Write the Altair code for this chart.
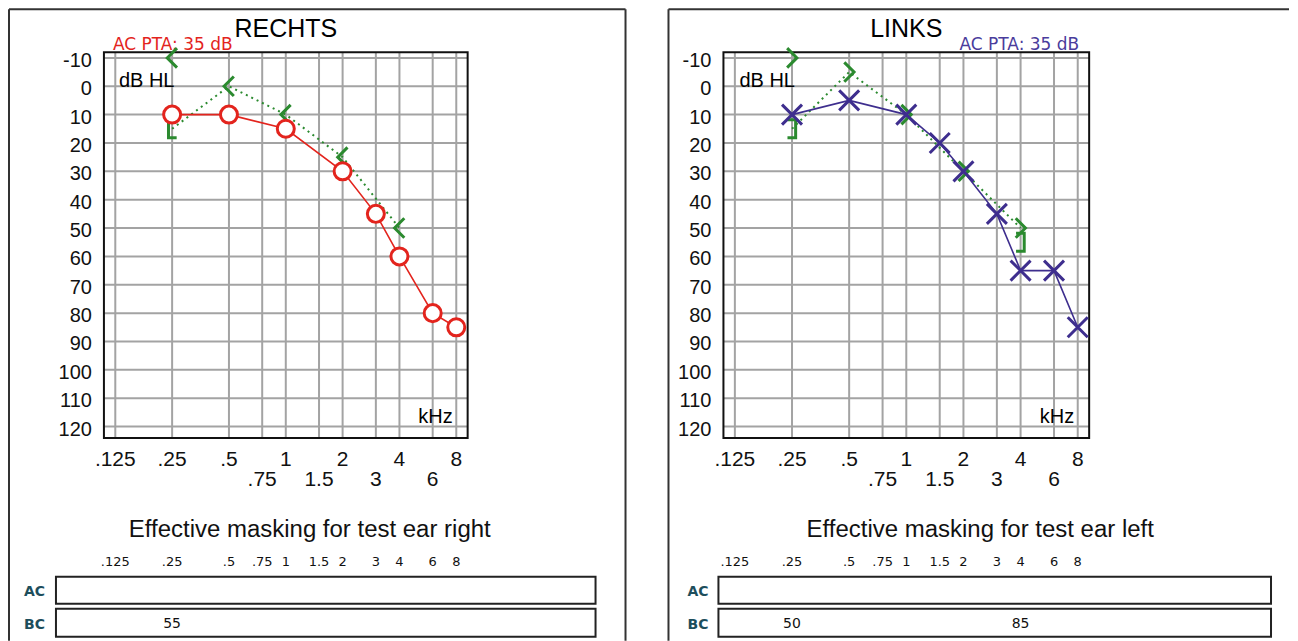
import altair as alt
import pandas as pd

# ---------------- data ----------------
FREQS = [0.125, 0.25, 0.5, 0.75, 1, 1.5, 2, 3, 4, 6, 8]
FREQ_LABELS = [".125", ".25", ".5", ".75", "1", "1.5", "2", "3", "4", "6", "8"]
FREQ_ROW = [1, 1, 1, 2, 1, 2, 1, 2, 1, 2, 1]
DB_TICKS = [-10, 0, 10, 20, 30, 40, 50, 60, 70, 80, 90, 100, 110, 120]

# right ear (RECHTS)
R_AC_F = [0.25, 0.5, 1, 2, 3, 4, 6, 8]
R_AC_DB = [10, 10, 15, 30, 45, 60, 80, 85]
R_BC_F = [0.25, 0.5, 1, 2, 4]
R_BC_DB = [-10, 0, 10, 25, 50]
R_BCM_F = [0.25]
R_BCM_DB = [15]
R_BCLINE_F = [0.25, 0.5, 1, 2, 4]
R_BCLINE_DB = [15, 0, 10, 25, 50]
R_MASK_BC_F = [0.25]
R_MASK_BC = ["55"]
R_PTA = "AC PTA: 35 dB"

# left ear (LINKS)
L_AC_F = [0.25, 0.5, 1, 1.5, 2, 3, 4, 6, 8]
L_AC_DB = [10, 5, 10, 20, 30, 45, 65, 65, 85]
L_BC_F = [0.25, 0.5, 1, 2, 4]
L_BC_DB = [-10, -5, 10, 30, 50]
L_BCM_F = [0.25, 4]
L_BCM_DB = [15, 55]
L_BCLINE_F = [0.25, 0.5, 1, 2, 4]
L_BCLINE_DB = [15, -5, 10, 30, 50]
L_MASK_BC_F = [0.25, 4]
L_MASK_BC = ["50", "85"]
L_PTA = "AC PTA: 35 dB"

# ---------------- styles ----------------
RED = "#e3241d"
BLUE = "#3e2e8e"
PURPLE_TXT = "#4a3c9c"
GREEN = "#2b8a2f"
GRID = "#a3a3a3"
TEAL = "#1d4e5c"
FONT = "Liberation Sans"
FONT2 = "DejaVu Sans"

XSHAPE = "M-1,-1L1,1M1,-1L-1,1"
LT = "M0.5,-1L-0.5,0L0.5,1"
GT = "M-0.5,-1L0.5,0L-0.5,1"
LBR = "M0.5,-1L-0.4,-1L-0.4,1L0.5,1"
RBR = "M-0.5,-1L0.4,-1L0.4,1L-0.5,1"

DB_DOMAIN = [-12, 124]
F_LO = 0.125 * 2 ** -0.2
F_HI = 8 * 2 ** 0.2
H = 632

one = pd.DataFrame({"k": [0]})


def fd(f, v, name="db"):
    return pd.DataFrame({"f": f, name: v})


def panel(title, pta, pta_color, ac_f, ac_db, ac_color, ac_shape, ac_size, ac_fill,
          bc_f, bc_db, bc_shape, bcm_f, bcm_db, bcm_shape, line_f, line_db,
          mask_bc_f, mask_bc, mask_title, L):
    sx = alt.Scale(type="log", base=2, domain=[F_LO, F_HI], range=L["x_range"], nice=False)
    sy = alt.Scale(type="linear", domain=DB_DOMAIN, range=[43, 429], nice=False, zero=False)
    X = lambda f="f:Q": alt.X(f, scale=sx, axis=None)
    Y = lambda f="db:Q": alt.Y(f, scale=sy, axis=None)

    freq_df = pd.DataFrame({"f": FREQS, "label": FREQ_LABELS, "row": FREQ_ROW})
    db_df = pd.DataFrame({"db": DB_TICKS, "lab": [str(v) for v in DB_TICKS]})
    W = L["width"]
    layers = []

    # outer panel frame
    layers.append(alt.Chart(one).mark_rule(color="#333", strokeWidth=2).encode(
        x=alt.value(0), y=alt.value(0), y2=alt.value(H)))
    layers.append(alt.Chart(one).mark_rule(color="#333", strokeWidth=2).encode(
        x=alt.value(0), x2=alt.value(L["frame_right"]), y=alt.value(0)))
    if L["right_border"]:
        layers.append(alt.Chart(one).mark_rule(color="#333", strokeWidth=2).encode(
            x=alt.value(L["frame_right"]), y=alt.value(0), y2=alt.value(H)))

    # grid
    layers.append(alt.Chart(freq_df).mark_rule(color=GRID, strokeWidth=2).encode(
        x=X(), y=alt.YDatum(DB_DOMAIN[0], type="quantitative", scale=sy, axis=None),
        y2=alt.Y2Datum(DB_DOMAIN[1])))
    layers.append(alt.Chart(db_df).mark_rule(color=GRID, strokeWidth=2).encode(
        y=Y(), x=alt.XDatum(F_LO, type="quantitative", scale=sx, axis=None),
        x2=alt.X2Datum(F_HI)))
    # plot frame
    layers.append(alt.Chart(one).mark_rect(fillOpacity=0, stroke="#111", strokeWidth=2).encode(
        x=alt.XDatum(F_LO, type="quantitative", scale=sx, axis=None), x2=alt.X2Datum(F_HI),
        y=alt.YDatum(DB_DOMAIN[0], type="quantitative", scale=sy, axis=None),
        y2=alt.Y2Datum(DB_DOMAIN[1])))

    # axis labels
    layers.append(alt.Chart(db_df).mark_text(align="right", baseline="alphabetic", dy=9,
                                             fontSize=20, font=FONT, color="#111").encode(
        x=alt.value(L["ylab_x"]), y=Y(), text="lab:N"))
    for row, yy in [(1, 457.5), (2, 477)]:
        layers.append(alt.Chart(freq_df).transform_filter(f"datum.row == {row}").mark_text(
            align="center", baseline="alphabetic", fontSize=21, font=FONT, color="#111").encode(
            x=X(), y=alt.value(yy), text="label:N"))

    # texts
    layers.append(alt.Chart(one).mark_text(text=title, align="center", baseline="alphabetic",
                                           fontSize=25, font=FONT, color="#000").encode(
        x=alt.value(L["title_x"]), y=alt.value(27.5)))
    layers.append(alt.Chart(one).mark_text(text=pta, align=L["pta_align"], baseline="alphabetic",
                                           fontSize=17, font=FONT2, color=pta_color).encode(
        x=alt.value(L["pta_x"]), y=alt.value(41)))
    layers.append(alt.Chart(one).mark_text(text="dB HL", align="left", baseline="alphabetic",
                                           fontSize=20, font=FONT, color="#000").encode(
        x=alt.value(L["dbhl_x"]), y=alt.value(78)))
    layers.append(alt.Chart(one).mark_text(text="kHz", align="right", baseline="alphabetic",
                                           fontSize=20, font=FONT, color="#000").encode(
        x=alt.value(L["khz_x"]), y=alt.value(414)))

    # bone conduction dotted line
    layers.append(alt.Chart(fd(line_f, line_db)).mark_line(
        color=GREEN, strokeWidth=2, strokeDash=[2, 4]).encode(x=X(), y=Y()))
    # air conduction line
    layers.append(alt.Chart(fd(ac_f, ac_db)).mark_line(
        color=ac_color, strokeWidth=1.6).encode(x=X(), y=Y()))
    # bone conduction symbols
    layers.append(alt.Chart(fd(bc_f, bc_db)).mark_point(
        shape=bc_shape, size=380, filled=False, stroke=GREEN, strokeWidth=3, opacity=1).encode(
        x=X(), y=Y()))
    layers.append(alt.Chart(fd(bcm_f, bcm_db)).mark_point(
        shape=bcm_shape, size=330, filled=False, stroke=GREEN, strokeWidth=3, opacity=1).encode(
        x=X(), y=Y()))
    # air conduction symbols
    pt = dict(shape=ac_shape, size=ac_size, stroke=ac_color, strokeWidth=3, opacity=1)
    if ac_fill:
        pt.update(filled=True, fill="white")
    else:
        pt.update(filled=False)
    layers.append(alt.Chart(fd(ac_f, ac_db)).mark_point(**pt).encode(x=X(), y=Y()))

    # masking section
    layers.append(alt.Chart(one).mark_text(text=mask_title, align="center", baseline="alphabetic",
                                           fontSize=24, font=FONT, color="#111").encode(
        x=alt.value(L["mask_title_x"]), y=alt.value(528)))
    layers.append(alt.Chart(freq_df).mark_text(align="center", baseline="alphabetic",
                                               fontSize=13, font=FONT2, color="#111").encode(
        x=X(), y=alt.value(557), text="label:N"))
    for y0, y1, lab in [(568, 595, "AC"), (600, 628, "BC")]:
        layers.append(alt.Chart(one).mark_rect(fillOpacity=0, stroke="#222", strokeWidth=2).encode(
            x=alt.value(L["box_x"][0]), x2=alt.value(L["box_x"][1]), y=alt.value(y0), y2=alt.value(y1)))
        layers.append(alt.Chart(one).mark_text(text=lab, align="center", baseline="alphabetic",
                                               fontSize=14, font=FONT2, fontWeight="bold",
                                               color=TEAL).encode(
            x=alt.value(L["rowlab_x"]), y=alt.value(y1 - 8)))
    layers.append(alt.Chart(fd(mask_bc_f, mask_bc, "v")).mark_text(
        align="center", baseline="alphabetic", fontSize=14, font=FONT2, color="#111").encode(
        x=X(), y=alt.value(619), text="v:N"))

    return alt.layer(*layers).properties(width=W, height=H)


right_layout = dict(width=620, x_range=[95, 459], frame_right=617, right_border=True,
                    ylab_x=83, title_x=277, pta_x=104, pta_align="left", dbhl_x=110,
                    khz_x=444, mask_title_x=301, box_x=[47, 587], rowlab_x=25.5)
left_layout = dict(width=621, x_range=[55, 421], frame_right=621, right_border=False,
                   ylab_x=43, title_x=238, pta_x=411, pta_align="right", dbhl_x=71,
                   khz_x=406, mask_title_x=312, box_x=[50, 603], rowlab_x=29.5)

right = panel("RECHTS", R_PTA, RED, R_AC_F, R_AC_DB, RED, "circle", 290, True,
              R_BC_F, R_BC_DB, LT, R_BCM_F, R_BCM_DB, LBR, R_BCLINE_F, R_BCLINE_DB,
              R_MASK_BC_F, R_MASK_BC, "Effective masking for test ear right", right_layout)
left = panel("LINKS", L_PTA, PURPLE_TXT, L_AC_F, L_AC_DB, BLUE, XSHAPE, 400, False,
             L_BC_F, L_BC_DB, GT, L_BCM_F, L_BCM_DB, RBR, L_BCLINE_F, L_BCLINE_DB,
             L_MASK_BC_F, L_MASK_BC, "Effective masking for test ear left", left_layout)

chart = alt.hconcat(right, left, spacing=40, bounds="flush").resolve_scale(
    x="independent", y="independent").properties(padding=0).configure_view(stroke=None)

chart.save("out.html", embed_options={"renderer": "svg", "actions": False})
